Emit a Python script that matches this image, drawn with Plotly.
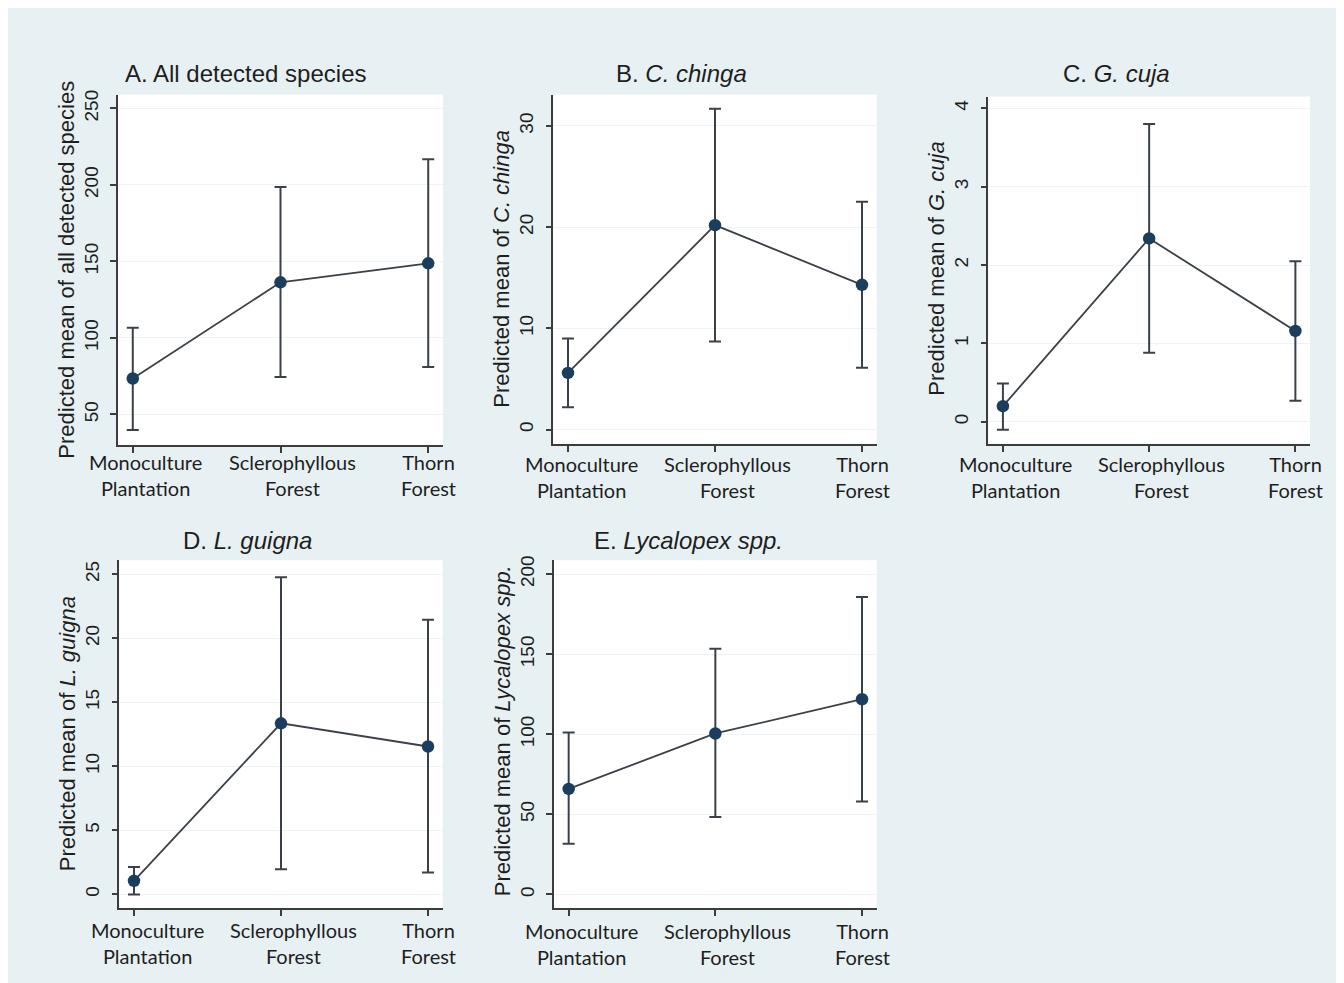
import plotly.graph_objects as go

# page body has an 8px margin, so the figure is drawn from (8, 8)
OFF = 8
W, H = 1336, 975

# ---------------- data ----------------
categories = ["Monoculture<br>Plantation", "Sclerophyllous<br>Forest", "Thorn<br>Forest"]

panel_titles = ["A. All detected species", "B. <i>C. chinga</i>", "C. <i>G. cuja</i>",
                "D. <i>L. guigna</i>", "E. <i>Lycalopex spp.</i>"]
y_titles = ["Predicted mean of all detected species",
            "Predicted mean of <i>C. chinga</i>",
            "Predicted mean of <i>G. cuja</i>",
            "Predicted mean of <i>L. guigna</i>",
            "Predicted mean of <i>Lycalopex spp.</i>"]

mean_all = [73.5, 136.4, 148.8]
low_all = [39.8, 74.5, 81.0]
up_all = [106.7, 198.7, 216.8]

mean_chinga = [5.6, 20.2, 14.3]
low_chinga = [2.2, 8.7, 6.1]
up_chinga = [9.0, 31.7, 22.5]

mean_cuja = [0.20, 2.34, 1.16]
low_cuja = [-0.10, 0.88, 0.27]
up_cuja = [0.49, 3.80, 2.05]

mean_guigna = [1.06, 13.36, 11.55]
low_guigna = [0.0, 1.97, 1.71]
up_guigna = [2.14, 24.76, 21.45]

mean_lyc = [65.9, 100.5, 121.9]
low_lyc = [31.7, 48.3, 58.0]
up_lyc = [101.1, 153.4, 185.7]

ticks_all = [50, 100, 150, 200, 250]
ticks_chinga = [0, 10, 20, 30]
ticks_cuja = [0, 1, 2, 3, 4]
ticks_guigna = [0, 5, 10, 15, 20, 25]
ticks_lyc = [0, 50, 100, 150, 200]

# ---------------- layout / style (screen pixel positions) ----------------
panels = [
    dict(mean=mean_all, low=low_all, up=up_all, ticks=ticks_all, yr=[30.2, 259.1],
         dom_x=(118, 443), dom_y=(90, 442), title_xy=(245, 69), ytitle_xy=(67, 266), xlab_y=472),
    dict(mean=mean_chinga, low=low_chinga, up=up_chinga, ticks=ticks_chinga, yr=[-1.4, 33.1],
         dom_x=(553.3, 876.7), dom_y=(90, 441), title_xy=(682, 69), ytitle_xy=(502, 265), xlab_y=474),
    dict(mean=mean_cuja, low=low_cuja, up=up_cuja, ticks=ticks_cuja, yr=[-0.28, 4.15],
         dom_x=(988.3, 1310), dom_y=(92, 441), title_xy=(1116, 69), ytitle_xy=(937, 265), xlab_y=474),
    dict(mean=mean_guigna, low=low_guigna, up=up_guigna, ticks=ticks_guigna, yr=[-1.09, 26.1],
         dom_x=(119.3, 442.7), dom_y=(558, 908), title_xy=(247, 538), ytitle_xy=(67, 733), xlab_y=943),
    dict(mean=mean_lyc, low=low_lyc, up=up_lyc, ticks=ticks_lyc, yr=[-8.7, 208.7],
         dom_x=(554, 876.7), dom_y=(558, 908), title_xy=(688, 538), ytitle_xy=(502, 730), xlab_y=944),
]
xlab_shift = [13, 12, 0]


def fx(p):
    return (p - OFF) / W


def fy(p):
    return 1 - (p - OFF) / H


BG = "#e7f1f3"
MARKER = "#1b3e5e"
LINE = "#3a4148"
AXIS = "#3c3c3c"
TXT = "#1e1e1e"
ARIAL = "Liberation Sans, Arial, sans-serif"
XLABFONT = "Lato, Carlito, sans-serif"

fig = go.Figure()
layout = dict(
    width=W, height=H,
    margin=dict(l=0, r=0, t=0, b=0),
    paper_bgcolor=BG, plot_bgcolor="white",
    showlegend=False,
    annotations=[],
)

xs = list(range(len(categories)))
for k, p in enumerate(panels):
    n = "" if k == 0 else str(k + 1)
    xa, ya = "x" + n, "y" + n
    err_plus = [u - m for u, m in zip(p["up"], p["mean"])]
    err_minus = [m - l for m, l in zip(p["mean"], p["low"])]
    fig.add_trace(go.Scatter(
        x=xs, y=p["mean"], xaxis=xa, yaxis=ya, mode="lines+markers",
        line=dict(color=LINE, width=1.8),
        marker=dict(color=MARKER, size=12.5, line=dict(width=0)),
        error_y=dict(type="data", symmetric=False, array=err_plus, arrayminus=err_minus,
                     color=LINE, thickness=2, width=6),
        hoverinfo="skip",
    ))
    dx0, dx1 = p["dom_x"]
    dy0, dy1 = p["dom_y"]
    layout["xaxis" + n] = dict(
        domain=[fx(dx0), fx(dx1)], anchor=ya, range=[-0.1, 2.1],
        tickmode="array", tickvals=xs, showticklabels=False,
        ticks="outside", ticklen=6, tickwidth=1.5, tickcolor=AXIS,
        showline=True, linecolor=AXIS, linewidth=1.5, showgrid=False, zeroline=False,
        fixedrange=True,
    )
    layout["yaxis" + n] = dict(
        domain=[fy(dy1), fy(dy0)], anchor=xa, range=p["yr"],
        tickmode="array", tickvals=p["ticks"], ticktext=[str(t) for t in p["ticks"]],
        tickangle=-90, tickfont=dict(family=ARIAL, size=19, color=TXT),
        ticklabelstandoff=5,
        ticks="outside", ticklen=6, tickwidth=1.5, tickcolor=AXIS,
        showline=True, linecolor=AXIS, linewidth=1.5,
        showgrid=True, gridcolor="#eef3f4", gridwidth=1, zeroline=False,
        fixedrange=True,
    )
    # panel title
    tx, ty = p["title_xy"]
    layout["annotations"].append(dict(
        text=panel_titles[k], xref="paper", yref="paper", x=fx(tx), y=fy(ty),
        xanchor="center", yanchor="middle", showarrow=False,
        font=dict(family=ARIAL, size=24, color=TXT)))
    # y-axis title
    yx, yy = p["ytitle_xy"]
    layout["annotations"].append(dict(
        text=y_titles[k], xref="paper", yref="paper", x=fx(yx), y=fy(yy),
        xanchor="center", yanchor="middle", textangle=-90, showarrow=False,
        font=dict(family=ARIAL, size=22, color=TXT)))
    # category labels
    for i, c in enumerate(categories):
        layout["annotations"].append(dict(
            text=c, xref=xa, yref="paper", x=i, y=fy(p["xlab_y"]), xshift=xlab_shift[i],
            xanchor="center", yanchor="middle", showarrow=False,
            font=dict(family=XLABFONT, size=20, color=TXT)))

fig.update_layout(**layout)
fig.write_html("out.html")
